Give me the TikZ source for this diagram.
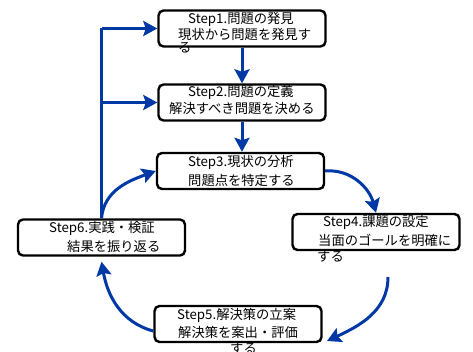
\documentclass[tikz,border=0pt]{standalone}
\usepackage{fontspec}
\setmainfont{Noto Sans CJK JP}
\usetikzlibrary{arrows.meta,positioning,calc}
\definecolor{flowblue}{RGB}{0,57,166}
\begin{document}
\begin{tikzpicture}[x=1pt,y=1pt,
  stepbox/.style={draw=black,line width=2.4pt,rounded corners=5pt,fill=white,
    minimum width=167pt,minimum height=36pt,inner sep=0pt},
  txt/.style={anchor=west,inner sep=0pt,font=\fontsize{13.3}{16}\selectfont,
    text height=11.5pt,text depth=1.8pt},
  flow/.style={draw=flowblue,line width=3pt,
    -{Stealth[length=14pt,width=15pt,inset=2.5pt]}},
  flowline/.style={draw=flowblue,line width=3pt}]
\useasboundingbox (0,0) rectangle (473,351);
\fill[white] (0,0) rectangle (473,351);
% boxes
\node[stepbox] (b1) at (242,322.5) {};
\node[stepbox] (b2) at (242,248.5) {};
\node[stepbox] (b3) at (240.5,180) {};
\node[stepbox] (b4) at (376,119) {};
\node[stepbox] (b5) at (238,27) {};
\node[stepbox] (b6) at (101.5,113.5) {};
% texts
\node[txt] (t1a) at (188,332) {Step1.問題の発見};
\node[txt] (t1b) at (178,316) {現状から問題を発見す};
\node[txt] (t1c) at (178,303) {る};
\node[txt] (t2a) at (188,259) {Step2.問題の定義};
\node[txt] (t2b) at (169,242) {解決すべき問題を決める};
\node[txt] (t3a) at (188,189) {Step3.現状の分析};
\node[txt] (t3b) at (188,170) {問題点を特定する};
\node[txt] (t4a) at (323,129) {Step4.課題の設定};
\node[txt] (t4b) at (318,110) {当面のゴールを明確に};
\node[txt] (t4c) at (317,94) {する};
\node[txt] (t5a) at (177,36) {Step5.解決策の立案};
\node[txt] (t5b) at (178,18) {解決策を案出・評価};
\node[txt] (t5c) at (230,2) {する};
\node[txt] (t6a) at (49,123) {Step6.実践・検証};
\node[txt] (t6b) at (67,104) {結果を振り返る};
% connectors
\coordinate (s45) at (388,74);
\coordinate (e45) at (327,10);
\draw[flow] (b1.south) -- (b2.north);
\draw[flow] (b2.south) -- (b2.south |- b3.north);
\draw[flowline] (b6.north) -- (b6.north |- b1.west);
\draw[flow] (b6.north |- b1.west) -- (b1.west);
\draw[flow] (b6.north |- b2.west) -- (b2.west);
\draw[flow] (b6.north) to[out=85,in=200] (b3.west);
\draw[flow] (b3.east) to[out=5,in=105] (b4.north);
\draw[flow] (s45) to[out=-90,in=25] (e45);
\draw[flow] ([yshift=-7pt]b5.west) to[out=165,in=-80] ([yshift=-5pt]b6.south);
\end{tikzpicture}
\end{document}
